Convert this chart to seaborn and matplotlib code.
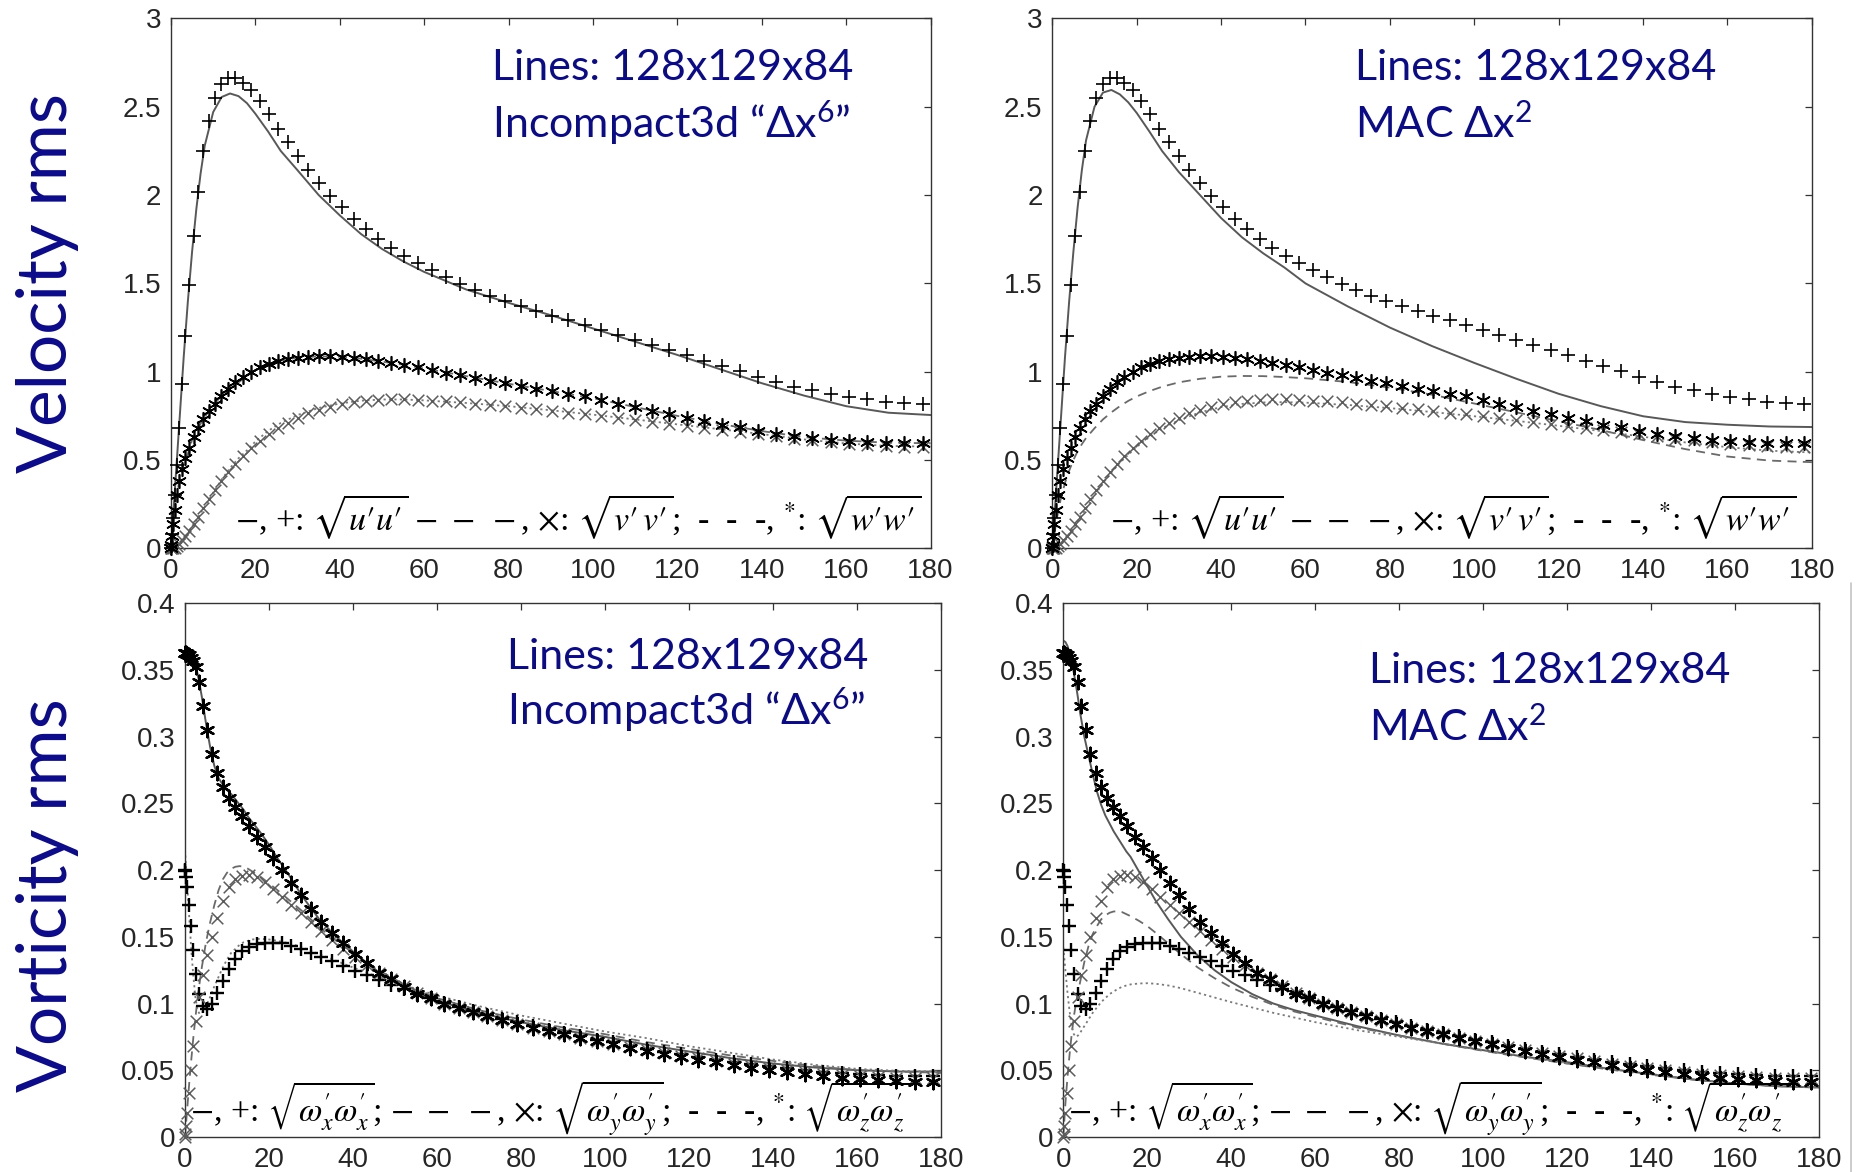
import numpy as np
import matplotlib
matplotlib.use("Agg")
import matplotlib.pyplot as plt
from matplotlib import font_manager
from matplotlib.lines import Line2D
from matplotlib.ticker import FuncFormatter
import seaborn as sns

# ---------------------------------------------------------------- data
# wall-normal positions (y+) of the DNS reference points
yplus = [0.0, 0.05, 0.21, 0.48, 0.86, 1.34, 1.93, 2.62, 3.42, 4.33,
         5.34, 6.45, 7.67, 8.99, 10.41, 11.94, 13.56, 15.28, 17.10, 19.02,
         21.03, 23.14, 25.34, 27.64, 30.02, 32.49, 35.05, 37.70, 40.43, 43.25,
         46.14, 49.12, 52.17, 55.30, 58.50, 61.78, 65.12, 68.54, 72.01, 75.56,
         79.16, 82.83, 86.55, 90.33, 94.16, 98.04, 101.96, 105.94, 109.96, 114.02,
         118.11, 122.25, 126.41, 130.61, 134.84, 139.09, 143.37, 147.67, 151.99, 156.32,
         160.66, 165.02, 169.38, 173.75, 178.12]

# DNS velocity rms
u_dns = [0.0, 0.02, 0.08, 0.17, 0.30, 0.47, 0.68, 0.93, 1.20, 1.49,
         1.77, 2.02, 2.25, 2.42, 2.55, 2.63, 2.665, 2.665, 2.633, 2.594,
         2.530, 2.460, 2.376, 2.301, 2.221, 2.141, 2.068, 1.996, 1.930, 1.867,
         1.809, 1.753, 1.703, 1.657, 1.616, 1.574, 1.534, 1.498, 1.464, 1.430,
         1.398, 1.371, 1.343, 1.317, 1.291, 1.263, 1.239, 1.209, 1.181, 1.151,
         1.122, 1.092, 1.062, 1.032, 1.002, 0.972, 0.942, 0.916, 0.896, 0.873,
         0.857, 0.843, 0.831, 0.821, 0.817]
v_dns = [0.0, 0.0, 0.0, 0.002, 0.005, 0.012, 0.025, 0.045, 0.07, 0.10,
         0.14, 0.18, 0.23, 0.28, 0.33, 0.38, 0.43, 0.48, 0.525, 0.57,
         0.61, 0.645, 0.68, 0.71, 0.74, 0.765, 0.785, 0.80, 0.815, 0.826,
         0.835, 0.84, 0.843, 0.843, 0.841, 0.837, 0.832, 0.826, 0.819, 0.812,
         0.804, 0.796, 0.787, 0.778, 0.768, 0.758, 0.748, 0.738, 0.727, 0.716,
         0.705, 0.693, 0.681, 0.669, 0.657, 0.645, 0.634, 0.622, 0.611, 0.601,
         0.592, 0.585, 0.579, 0.575, 0.573]
w_dns = [0.0, 0.02, 0.07, 0.14, 0.22, 0.30, 0.38, 0.45, 0.51, 0.57,
         0.63, 0.68, 0.73, 0.775, 0.82, 0.865, 0.905, 0.94, 0.97, 1.0,
         1.025, 1.045, 1.06, 1.07, 1.08, 1.085, 1.087, 1.087, 1.084, 1.078,
         1.07, 1.06, 1.05, 1.038, 1.025, 1.01, 0.995, 0.98, 0.965, 0.95,
         0.935, 0.92, 0.905, 0.89, 0.875, 0.86, 0.84, 0.82, 0.80, 0.78,
         0.76, 0.74, 0.72, 0.70, 0.685, 0.667, 0.65, 0.635, 0.625, 0.615,
         0.607, 0.60, 0.597, 0.595, 0.595]

# DNS vorticity rms
wx_dns = [0.200, 0.199, 0.195, 0.187, 0.174, 0.158, 0.140, 0.122, 0.107, 0.098,
          0.096, 0.100, 0.108, 0.117, 0.126, 0.133, 0.139, 0.1425, 0.1445, 0.1455,
          0.1455, 0.145, 0.143, 0.141, 0.138, 0.135, 0.1315, 0.128, 0.1245, 0.121,
          0.1175, 0.114, 0.1105, 0.107, 0.104, 0.1005, 0.0975, 0.0945, 0.0915, 0.0885,
          0.0858, 0.083, 0.0805, 0.078, 0.0755, 0.073, 0.071, 0.0685, 0.0662, 0.064,
          0.062, 0.060, 0.058, 0.0562, 0.0545, 0.053, 0.0515, 0.050, 0.049, 0.048,
          0.047, 0.0465, 0.046, 0.046, 0.046]
wy_dns = [0.0, 0.002, 0.008, 0.018, 0.033, 0.050, 0.068, 0.087, 0.105, 0.121,
          0.136, 0.150, 0.164, 0.177, 0.187, 0.193, 0.1955, 0.196, 0.1947, 0.191,
          0.186, 0.180, 0.174, 0.168, 0.161, 0.154, 0.1476, 0.141, 0.135, 0.129,
          0.123, 0.118, 0.113, 0.108, 0.104, 0.100, 0.0965, 0.0935, 0.0905, 0.0875,
          0.0848, 0.082, 0.0795, 0.077, 0.0745, 0.072, 0.0698, 0.0675, 0.0652, 0.063,
          0.061, 0.059, 0.057, 0.055, 0.0533, 0.0515, 0.050, 0.0487, 0.0475, 0.0465,
          0.0455, 0.045, 0.0445, 0.0442, 0.044]
wz_dns = [0.363, 0.363, 0.363, 0.362, 0.361, 0.359, 0.357, 0.352, 0.341, 0.323,
          0.305, 0.287, 0.273, 0.262, 0.254, 0.2476, 0.2406, 0.233, 0.225, 0.217,
          0.209, 0.200, 0.190, 0.181, 0.171, 0.161, 0.153, 0.145, 0.137, 0.130,
          0.123, 0.118, 0.112, 0.107, 0.104, 0.100, 0.097, 0.094, 0.0905, 0.0875,
          0.0845, 0.082, 0.0795, 0.077, 0.0745, 0.072, 0.0695, 0.067, 0.0647, 0.0625,
          0.0602, 0.058, 0.056, 0.054, 0.052, 0.050, 0.0485, 0.047, 0.0455, 0.0443,
          0.0432, 0.0423, 0.0416, 0.0411, 0.041]

# LES profiles, velocity (128x129x84 grid)
y_vel = [0, 1, 2, 3, 4, 5, 6, 7, 8, 10, 12, 14, 16, 18, 20, 23, 26, 30,
         35, 40, 45, 50, 55, 60, 70, 80, 90, 100, 110, 120, 130, 140, 150, 160, 170, 180]
inc_u = [0, 0.36, 0.72, 1.08, 1.40, 1.68, 1.92, 2.12, 2.28, 2.47, 2.555, 2.575, 2.56, 2.52, 2.46, 2.36, 2.25, 2.14,
         2.00, 1.885, 1.78, 1.695, 1.625, 1.565, 1.465, 1.39, 1.32, 1.245, 1.17, 1.095, 1.015, 0.935, 0.865, 0.805, 0.768, 0.755]
inc_w = [0, 0.25, 0.385, 0.475, 0.535, 0.615, 0.66, 0.705, 0.745, 0.81, 0.865, 0.905, 0.94, 0.975, 1.01, 1.045, 1.063, 1.08,
         1.087, 1.085, 1.074, 1.057, 1.04, 1.018, 0.975, 0.932, 0.891, 0.85, 0.80, 0.75, 0.705, 0.664, 0.63, 0.61, 0.598, 0.595]
inc_v = [0, 0.003, 0.02, 0.045, 0.08, 0.125, 0.16, 0.20, 0.235, 0.315, 0.39, 0.455, 0.51, 0.555, 0.605, 0.665, 0.71, 0.755,
         0.795, 0.82, 0.836, 0.843, 0.843, 0.838, 0.823, 0.805, 0.782, 0.757, 0.73, 0.702, 0.675, 0.647, 0.617, 0.594, 0.58, 0.576]
mac_u = [0, 0.36, 0.72, 1.08, 1.40, 1.68, 1.93, 2.14, 2.31, 2.50, 2.58, 2.595, 2.57, 2.525, 2.465, 2.36, 2.25, 2.13,
         2.00, 1.87, 1.76, 1.67, 1.59, 1.50, 1.37, 1.25, 1.145, 1.05, 0.96, 0.875, 0.805, 0.748, 0.715, 0.70, 0.69, 0.687]
mac_w = [0, 0.16, 0.28, 0.37, 0.44, 0.50, 0.55, 0.59, 0.625, 0.68, 0.73, 0.77, 0.805, 0.835, 0.86, 0.89, 0.915, 0.94,
         0.96, 0.972, 0.976, 0.975, 0.97, 0.963, 0.942, 0.91, 0.87, 0.82, 0.77, 0.72, 0.67, 0.613, 0.562, 0.52, 0.497, 0.488]
mac_v = [0, 0.003, 0.02, 0.045, 0.08, 0.12, 0.155, 0.19, 0.225, 0.30, 0.37, 0.43, 0.485, 0.53, 0.575, 0.63, 0.68, 0.725,
         0.77, 0.80, 0.818, 0.826, 0.828, 0.825, 0.812, 0.794, 0.772, 0.748, 0.722, 0.694, 0.664, 0.632, 0.60, 0.573, 0.553, 0.543]

# LES profiles, vorticity
y_vor = [0, 0.5, 1, 1.5, 2, 2.5, 3, 3.5, 4, 5, 6, 7, 8, 9, 10, 11, 12, 13, 14, 15, 16,
         18, 20, 22, 25, 28, 32, 36, 40, 45, 50, 55, 60, 70, 80, 90, 100, 110, 120, 130, 140, 150, 160, 170, 180]
inc_wz = [0.365, 0.365, 0.364, 0.362, 0.359, 0.354, 0.347, 0.339, 0.330, 0.310, 0.292, 0.278, 0.269, 0.264, 0.260,
          0.257, 0.253, 0.249, 0.245, 0.240, 0.236, 0.228, 0.219, 0.209, 0.195, 0.180, 0.163, 0.150, 0.139, 0.126,
          0.116, 0.108, 0.102, 0.093, 0.086, 0.080, 0.075, 0.069, 0.064, 0.059, 0.055, 0.052, 0.050, 0.049, 0.049]
inc_wy = [0.0, 0.02, 0.04, 0.058, 0.075, 0.09, 0.104, 0.116, 0.127, 0.146, 0.161, 0.174, 0.185, 0.193, 0.198,
          0.201, 0.2025, 0.203, 0.2025, 0.201, 0.199, 0.195, 0.190, 0.185, 0.177, 0.169, 0.157, 0.147, 0.138, 0.127,
          0.118, 0.110, 0.104, 0.095, 0.088, 0.082, 0.077, 0.071, 0.066, 0.061, 0.057, 0.053, 0.050, 0.049, 0.048]
inc_wx = [0.215, 0.19, 0.165, 0.14, 0.12, 0.104, 0.095, 0.092, 0.093, 0.098, 0.105, 0.113, 0.120, 0.127, 0.133,
          0.138, 0.141, 0.144, 0.146, 0.147, 0.148, 0.1485, 0.148, 0.147, 0.145, 0.142, 0.137, 0.132, 0.127, 0.121,
          0.116, 0.111, 0.106, 0.098, 0.091, 0.085, 0.079, 0.074, 0.068, 0.063, 0.058, 0.054, 0.051, 0.0495, 0.049]
mac_wz = [0.372, 0.371, 0.368, 0.363, 0.356, 0.348, 0.339, 0.329, 0.318, 0.300, 0.286, 0.272, 0.259, 0.249, 0.241,
          0.235, 0.229, 0.224, 0.219, 0.214, 0.210, 0.199, 0.188, 0.177, 0.163, 0.150, 0.136, 0.125, 0.116, 0.107,
          0.100, 0.095, 0.091, 0.083, 0.076, 0.070, 0.065, 0.060, 0.056, 0.051, 0.047, 0.043, 0.040, 0.038, 0.037]
mac_wy = [0.0, 0.025, 0.045, 0.062, 0.077, 0.090, 0.100, 0.108, 0.116, 0.131, 0.143, 0.152, 0.158, 0.163, 0.166,
          0.168, 0.169, 0.169, 0.1685, 0.167, 0.1655, 0.162, 0.158, 0.153, 0.145, 0.137, 0.127, 0.119, 0.112, 0.105,
          0.099, 0.094, 0.090, 0.082, 0.076, 0.070, 0.0645, 0.0595, 0.055, 0.0505, 0.0465, 0.043, 0.040, 0.038, 0.0375]
mac_wx = [0.142, 0.125, 0.108, 0.094, 0.083, 0.077, 0.075, 0.076, 0.078, 0.083, 0.088, 0.093, 0.097, 0.101, 0.104,
          0.107, 0.109, 0.111, 0.1125, 0.1135, 0.1143, 0.115, 0.1152, 0.1148, 0.1135, 0.1115, 0.108, 0.1045, 0.101, 0.097,
          0.093, 0.0895, 0.086, 0.080, 0.075, 0.070, 0.065, 0.060, 0.055, 0.051, 0.047, 0.043, 0.040, 0.038, 0.037]

x_ticks = [0, 20, 40, 60, 80, 100, 120, 140, 160, 180]
vel_ticks = [0, 0.5, 1, 1.5, 2, 2.5, 3]
vor_ticks = [0, 0.05, 0.1, 0.15, 0.2, 0.25, 0.3, 0.35, 0.4]

grid_line = "Lines: 128x129x84"
scheme_inc = "Incompact3d \u201c\u0394x$^{\\mathrm{6}}$\u201d"
scheme_mac = "MAC \u0394x$^{\\mathrm{2}}$"
vel_key = ("$-$, +: $\\sqrt{u\u2032u\u2032}$ $-\\ -\\ -$, $\\times$: $\\sqrt{v\u2032\\,v\u2032}$;  -  -  -, "
           "$^{*}$: $\\sqrt{w\u2032w\u2032}$")
vor_key = (r"$-$, +: $\sqrt{\omega^{\prime}_{x}\omega^{\prime}_{x}}$; $-\ -\ -$, $\times$: "
           r"$\sqrt{\omega^{\prime}_{y}\omega^{\prime}_{y}}$;  -  -  -, "
           r"$^{*}$: $\sqrt{\omega^{\prime}_{z}\omega^{\prime}_{z}}$")

# ---------------------------------------------------------------- style
W, H = 1865, 1172
NAVY = "#0a0a8c"

sns.set_theme(style="white")
installed = {f.name for f in font_manager.fontManager.ttflist}
tick_font = "Liberation Sans Narrow" if "Liberation Sans Narrow" in installed else "Liberation Sans"
plt.rcParams["font.family"] = ["Lato", "DejaVu Sans"]
plt.rcParams["mathtext.fontset"] = "custom"
plt.rcParams["mathtext.rm"] = "Lato"
plt.rcParams["mathtext.it"] = "Lato:italic"
plt.rcParams["mathtext.bf"] = "Lato:bold"

fig = plt.figure(figsize=(W / 100, H / 100), dpi=100)
fig.patch.set_facecolor("white")


def panel(x0, x1, ytop, ybot):
    return fig.add_axes([x0 / W, 1 - ybot / H, (x1 - x0) / W, (ybot - ytop) / H])


def dress(ax, yticks):
    ax.set_xlim(0, 180)
    ax.set_ylim(yticks[0], yticks[-1])
    ax.set_xticks(x_ticks)
    ax.set_yticks(yticks)
    fmt = FuncFormatter(lambda v, p: f"{v:g}")
    ax.xaxis.set_major_formatter(fmt)
    ax.yaxis.set_major_formatter(fmt)
    ax.tick_params(direction="in", top=True, right=True, length=5, width=0.9,
                   color="#333333", labelsize=20, labelcolor="#262626", pad=7,
                   labelfontfamily=tick_font)
    for s in ax.spines.values():
        s.set_visible(True)
        s.set_color("#333333")
        s.set_linewidth(1.0)
    ax.set_facecolor("white")
    ax.set_xlabel("")
    ax.set_ylabel("")


def les_lines(ax, y, solid, dashed, dotted):
    sns.lineplot(x=y, y=solid, ax=ax, color="#585858", lw=1.4, estimator=None, sort=False)
    sns.lineplot(x=y, y=dashed, ax=ax, color="#6a6a6a", lw=1.3, dashes=False,
                 linestyle=(0, (5, 3.5)), estimator=None, sort=False)
    sns.lineplot(x=y, y=dotted, ax=ax, color="#7a7a7a", lw=1.3, dashes=False,
                 linestyle=(0, (1.2, 1.8)), estimator=None, sort=False)


def dns_marks(ax, plus, cross, star, mew):
    sns.scatterplot(x=yplus, y=plus, ax=ax, marker="+", s=110, color="black",
                    linewidth=mew, clip_on=False, zorder=4)
    sns.scatterplot(x=yplus, y=cross, ax=ax, marker="x", s=70, color="#5c5c5c",
                    linewidth=1.1, clip_on=False, zorder=4)
    sns.scatterplot(x=yplus, y=star, ax=ax, marker=(6, 2, 0), s=95, color="black",
                    linewidth=mew, clip_on=False, zorder=4)


axes = {
    "tl": panel(171, 930.6, 18.4, 548.4),
    "tr": panel(1052.3, 1811.9, 18.4, 548.4),
    "bl": panel(185, 941, 603.3, 1136.9),
    "br": panel(1063.3, 1819.3, 603.3, 1136.9),
}

# velocity panels
les_lines(axes["tl"], y_vel, inc_u, inc_w, inc_v)
dns_marks(axes["tl"], u_dns, v_dns, w_dns, 1.2)
les_lines(axes["tr"], y_vel, mac_u, mac_w, mac_v)
dns_marks(axes["tr"], u_dns, v_dns, w_dns, 1.2)

# vorticity panels
les_lines(axes["bl"], y_vor, inc_wz, inc_wy, inc_wx)
dns_marks(axes["bl"], wx_dns, wy_dns, wz_dns, 1.7)
les_lines(axes["br"], y_vor, mac_wz, mac_wy, mac_wx)
dns_marks(axes["br"], wx_dns, wy_dns, wz_dns, 1.7)

for key in ("tl", "tr"):
    dress(axes[key], vel_ticks)
for key in ("bl", "br"):
    dress(axes[key], vor_ticks)


def fig_text(x, y, s, **kw):
    return fig.text(x / W, 1 - y / H, s, **kw)


# grid / scheme annotations
for (x, y1, y2, scheme) in [(492, 79.5, 137.5, scheme_inc), (1355, 79.5, 137.5, scheme_mac),
                            (507, 669, 725, scheme_inc), (1369, 683, 741, scheme_mac)]:
    fig_text(x, y1, grid_line, fontsize=31, color=NAVY, va="baseline", ha="left",
             family=["Lato", "DejaVu Sans"])
    fig_text(x, y2, scheme, fontsize=31, color=NAVY, va="baseline", ha="left",
             family=["Lato", "DejaVu Sans"], math_fontfamily="custom")

# symbol keys along the bottom of each panel
for (x, y, s, fs) in [(235, 530, vel_key, 24.5), (1110, 530, vel_key, 24.5),
                      (190, 1122, vor_key, 24.4), (1068, 1122, vor_key, 24.4)]:
    fig_text(x, y, s, fontsize=fs, color="black", va="baseline", ha="left",
             family=["Liberation Serif", "DejaVu Serif"], math_fontfamily="stix")

# row titles
fig_text(48, 283, "Velocity rms", rotation=90, fontsize=50, color=NAVY,
         ha="center", va="center", family=["Lato", "DejaVu Sans"])
fig_text(48, 895, "Vorticity rms", rotation=90, fontsize=50, color=NAVY,
         ha="center", va="center", family=["Lato", "DejaVu Sans"])

# thin rule at the right edge of the lower row
fig.add_artist(Line2D([1851 / W, 1851 / W], [0, 1 - 583 / H], transform=fig.transFigure,
                      color="#c4c4c4", lw=1.2))

fig.savefig("out.png", dpi=100, facecolor="white")
